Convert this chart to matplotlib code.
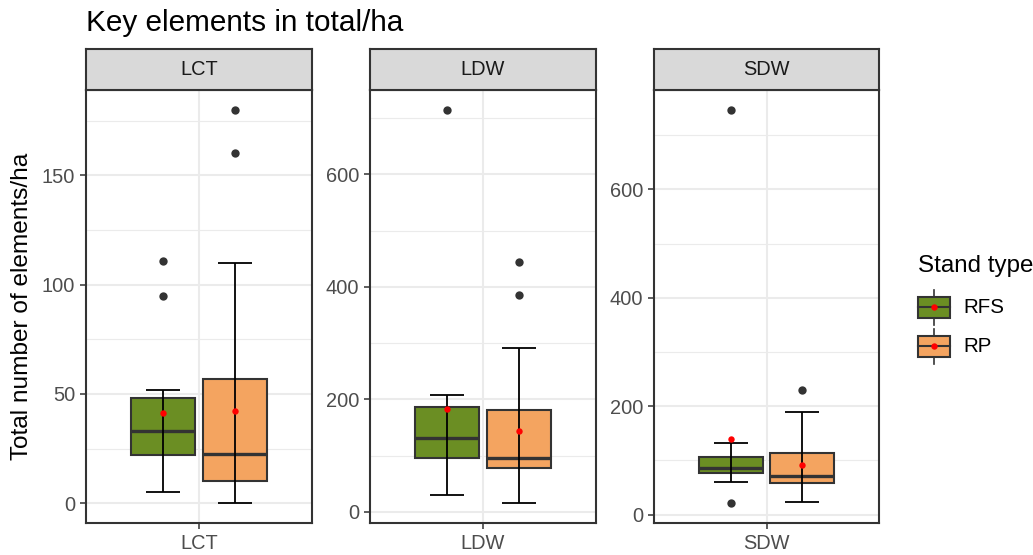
import matplotlib
matplotlib.use("Agg")
import matplotlib.pyplot as plt
from matplotlib.patches import Rectangle
from matplotlib.lines import Line2D

plt.rcParams['font.family'] = ['Liberation Sans', 'DejaVu Sans']

# ---- data -------------------------------------------------------------
facets = ["LCT", "LDW", "SDW"]
stand_types = ["RFS", "RP"]
stand_colors = ["#6B8E23", "#F4A460"]

# per facet: [RFS, RP]
whisker_low = [[5, 0], [30, 15], [61, 24]]
quartile_1 = [[22, 10], [95, 77], [77, 58]]
medians = [[33, 22.5], [132, 96], [86, 72]]
quartile_3 = [[48, 57], [187, 181], [107, 113]]
whisker_high = [[52, 110], [208, 292], [132, 190]]
means = [[41.5, 42], [183, 144], [140, 91]]
outliers = [[[95, 111], [160, 180]],
            [[715], [385, 445]],
            [[21, 747], [230]]]

y_major_ticks = [[0, 50, 100, 150], [0, 200, 400, 600], [0, 200, 400, 600]]
y_minor_ticks = [[25, 75, 125, 175], [100, 300, 500, 700], [100, 300, 500, 700]]

title = "Key elements in total/ha"
y_label = "Total number of elements/ha"
legend_title = "Stand type"

# ---- layout (figure pixels) --------------------------------------------
W, H = 1033, 555
fig = plt.figure(figsize=(W / 100, H / 100), dpi=100)

panel_x = [(86, 312), (370, 595.7), (654, 879.3)]
panel_top, panel_bot = 90, 523
strip_top = 49.3

dodge = [-0.19, 0.19]
box_w = 0.34
cap_w = 0.09
edge = "#333333"
grid_c = "#EBEBEB"
mean_ms = 4.6


def fig_rect(x0, x1, top, bot):
    return [x0 / W, 1 - bot / H, (x1 - x0) / W, (bot - top) / H]


for fi, name in enumerate(facets):
    x0, x1 = panel_x[fi]
    ax = fig.add_axes(fig_rect(x0, x1, panel_top, panel_bot))

    vals = []
    for gi in range(2):
        vals += [whisker_low[fi][gi], whisker_high[fi][gi], means[fi][gi]] + outliers[fi][gi]
    lo, hi = min(vals), max(vals)
    pad = (hi - lo) * 0.05
    ax.set_ylim(lo - pad, hi + pad)
    ax.set_xlim(0.4, 1.6)

    # grid
    for v in y_minor_ticks[fi]:
        ax.axhline(v, color=grid_c, lw=0.8, zorder=0)
    for v in y_major_ticks[fi]:
        ax.axhline(v, color=grid_c, lw=1.5, zorder=0)
    ax.axvline(1, color=grid_c, lw=1.5, zorder=0)

    for gi in range(2):
        cx = 1 + dodge[gi]
        stats = [dict(whislo=whisker_low[fi][gi], q1=quartile_1[fi][gi],
                      med=medians[fi][gi], q3=quartile_3[fi][gi],
                      whishi=whisker_high[fi][gi], fliers=[])]
        ax.bxp(stats, positions=[cx], widths=box_w, patch_artist=True,
               showcaps=False, showfliers=False, manage_ticks=False,
               boxprops=dict(facecolor=stand_colors[gi], edgecolor=edge, linewidth=1.5),
               whiskerprops=dict(linewidth=0),
               medianprops=dict(color=edge, linewidth=2.4),
               zorder=2)
        # error-bar whiskers drawn across the box
        ax.vlines(cx, whisker_low[fi][gi], whisker_high[fi][gi], color="black", lw=1.3, zorder=3)
        ax.hlines([whisker_low[fi][gi], whisker_high[fi][gi]], cx - cap_w, cx + cap_w,
                  color="black", lw=1.3, zorder=3)
        # outliers
        ax.plot([cx] * len(outliers[fi][gi]), outliers[fi][gi], 'o', color="#333333",
                ms=6, mec="none", zorder=4)
        # mean
        ax.plot([cx], [means[fi][gi]], 'o', color="red", ms=mean_ms, mec="none", zorder=5)

    ax.set_yticks(y_major_ticks[fi])
    ax.set_xticks([1])
    ax.set_xticklabels([name])
    ax.tick_params(axis='both', length=4.3, width=1.1, color="#333333", pad=3.5,
                   labelsize=14.4, labelcolor="#4D4D4D")
    for s in ax.spines.values():
        s.set_color("#333333")
        s.set_linewidth(1.5)
        s.set_zorder(6)

    # facet strip
    sax = fig.add_axes(fig_rect(x0, x1, strip_top, panel_top))
    sax.set_facecolor("#D9D9D9")
    sax.set_xticks([])
    sax.set_yticks([])
    for s in sax.spines.values():
        s.set_color("#333333")
        s.set_linewidth(1.5)
    sax.text(0.5, 0.5, name, ha="center", va="center", fontsize=14.4, color="#1A1A1A",
             transform=sax.transAxes)

fig.text(86 / W, 1 - 31 / H, title, fontsize=21.4, ha="left", va="baseline", color="black")
fig.text(22.5 / W, 1 - 306.5 / H, y_label, fontsize=17.6, rotation=90,
         ha="center", va="center", color="black")

# ---- legend -------------------------------------------------------------
lax = fig.add_axes([0, 0, 1, 1], zorder=10)
lax.set_xlim(0, W)
lax.set_ylim(H, 0)
lax.axis("off")
lax.text(918, 272, legend_title, fontsize=17.4, ha="left", va="baseline", color="black")
key_tops = [296.7, 335.5]
key_h = 21.5
for gi, lab in enumerate(stand_types):
    t = key_tops[gi]
    cx, cy = 934, t + key_h / 2
    lax.add_line(Line2D([cx, cx], [t - 7, t + key_h + 7], color="#333333", lw=1.2, zorder=1))
    lax.add_patch(Rectangle((918, t), 32, key_h, facecolor=stand_colors[gi],
                            edgecolor="#333333", lw=1.5, zorder=2))
    lax.add_line(Line2D([918, 950], [cy, cy], color="#333333", lw=1.5, zorder=3))
    lax.plot([cx], [cy], 'o', color="red", ms=mean_ms, mec="none", zorder=4)
    lax.text(963, cy, lab, fontsize=14.8, ha="left", va="center", color="black")

fig.savefig("out.png", dpi=100)
